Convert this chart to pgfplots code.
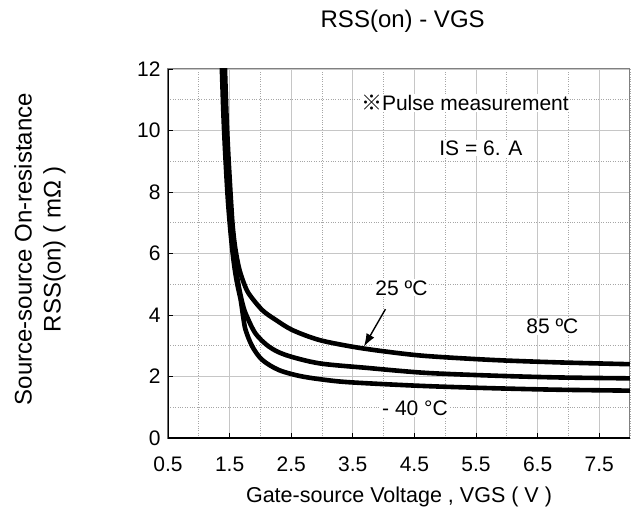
\documentclass[border=0pt]{standalone}
\usepackage{fontspec}
\setmainfont{Liberation Sans}
\newfontfamily\cjk{Noto Sans CJK JP}
\usepackage{pgfplots}
\pgfplotsset{compat=1.18}
\usetikzlibrary{arrows.meta}

\newcommand{\fs}{\fontsize{21bp}{25bp}\selectfont}

\begin{document}
\begin{tikzpicture}
\path[use as bounding box] (-168bp,-84bp) rectangle (466bp,438bp);
\begin{axis}[
    at={(0,0)}, anchor=south west,
    scale only axis,
    width=462bp, height=369bp,
    xmin=0.5, xmax=8, ymin=0, ymax=12,
    xtick={0.5,1.5,...,7.5}, minor xtick={1,2,...,8},
    ytick={0,2,...,12}, minor ytick={1,3,...,11},
    xtick pos=bottom, ytick pos=left,
    tick align=inside,
    major tick length=5bp, minor tick length=0bp,
    tick style={black, line width=0.8bp},
    grid=both,
    major grid style={gray!45, line width=0.7bp},
    minor grid style={gray!70, dotted, line width=0.9bp},
    axis line style={gray, line width=1bp},
    /pgf/number format/assume math mode=true,
    x tick label style={/pgf/number format/fixed, /pgf/number format/fixed zerofill, /pgf/number format/precision=1},
    every tick label/.append style={font=\fs, black},
    xticklabel style={yshift=-15bp, text height=15bp, text depth=0bp},
    yticklabel style={xshift=-4bp},
    title={RSS(on) - VGS},
    title style={font=\fontsize{24bp}{28bp}\selectfont, at={(axis description cs:0.508,1.073)}},
    xlabel={Gate-source Voltage , VGS ( V )},
    xlabel style={font=\fontsize{21.5bp}{25bp}\selectfont, at={(axis description cs:0.5,-0.16)}, anchor=center},
    ylabel={Source-source On-resistance\\RSS(on) ( mΩ )},
    ylabel style={font=\fontsize{24bp}{29bp}\selectfont, align=center, at={(axis description cs:-0.277,0.512)}, anchor=center},
    clip=true,
]
\draw[black, line width=1.2bp] (rel axis cs:0,1) -- (rel axis cs:0,0) -- (rel axis cs:1,0);

% 85 C
\addplot[black, line width=4.6bp, smooth, tension=0.5] coordinates {
    (1.42,12.3) (1.45,10.5) (1.48,9.2) (1.52,7.8) (1.55,6.9) (1.59,6.2)
    (1.65,5.55) (1.72,5.1) (1.81,4.70) (2.03,4.16) (2.25,3.84) (2.52,3.51)
    (2.95,3.19) (3.49,2.97) (4.0,2.82) (4.67,2.67) (5.75,2.54) (6.82,2.46) (8,2.40)
};
% 25 C
\addplot[black, line width=4.6bp, smooth, tension=0.5] coordinates {
    (1.39,12.3) (1.42,10.5) (1.45,9.2) (1.49,7.8) (1.53,6.8) (1.57,6.0)
    (1.61,5.4) (1.65,4.92) (1.70,4.45) (1.76,4.05) (1.92,3.40) (2.14,2.97)
    (2.41,2.70) (2.95,2.43) (3.73,2.28) (4.67,2.12) (5.75,2.03) (6.82,1.97) (8,1.94)
};
% -40 C
\addplot[black, line width=4.6bp, smooth, tension=0.5] coordinates {
    (1.37,12.3) (1.40,10.5) (1.43,9.2) (1.47,7.8) (1.51,6.8) (1.55,6.0)
    (1.59,5.4) (1.63,4.95) (1.68,4.49) (1.72,3.95) (1.76,3.51) (1.87,2.97)
    (2.03,2.54) (2.30,2.21) (2.68,2.0) (3.22,1.85) (3.73,1.78) (4.67,1.69)
    (5.75,1.62) (6.82,1.57) (8,1.54)
};

\node[font=\fs, fill=white, inner sep=1bp] at (axis cs:5.32,10.9) {{\cjk ※}Pulse measurement};
\node[font=\fs, fill=white, inner sep=1bp] at (axis cs:5.58,9.43) {IS = 6. A};
\node[font=\fs, fill=white, inner sep=1bp] at (axis cs:4.29,4.88) {25 ºC};
\node[font=\fs, fill=white, inner sep=1bp] at (axis cs:6.74,3.64) {85 ºC};
\node[font=\fs, fill=white, inner sep=1bp] at (axis cs:4.51,0.97) {- 40 °C};
\draw[-{Latex[length=13bp,width=9bp]}, black, line width=1.4bp] (axis cs:4.03,4.19) -- (axis cs:3.68,2.97);
\end{axis}
\end{tikzpicture}
\end{document}
